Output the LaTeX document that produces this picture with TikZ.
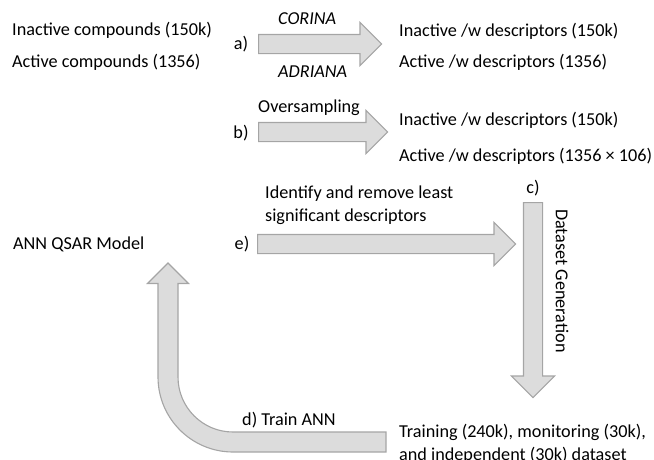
\documentclass[tikz,border=0pt]{standalone}
\usepackage{fontspec}
\setmainfont{Carlito}
\usetikzlibrary{shapes.arrows,positioning}
\definecolor{arrowfill}{HTML}{DCDCDC}
\definecolor{arrowline}{HTML}{A5A5A5}
\tikzstyle{every node}=[font=\fontsize{18.2}{23}\selectfont,inner sep=0pt]
\tikzstyle{txt} = [anchor=base west,align=left]
\tikzstyle{lbl} = [anchor=base]
\tikzstyle{bigarrow} = [single arrow,draw=arrowline,fill=arrowfill,line width=1.1pt,text height=18pt,text depth=0pt,minimum width=0pt,single arrow head extend=12pt,anchor=tail]
\tikzstyle{bigshape} = [draw=arrowline,fill=arrowfill,line width=1.1pt,line join=miter]

\begin{document}
\begin{tikzpicture}[x=1pt,y=-1pt]
\useasboundingbox (0,0) rectangle (654,459);

% a) structure generation
\node (inact) [txt] at (12,35.5) {Inactive compounds (150k)};
\node (act) [txt] at (12,67.5) {Active compounds (1356)};
\node (arrA) [bigarrow,minimum height=123pt] at (258,44) {};
\node (labA) [lbl] at (241,49) {a)};
\node (corina) [txt] at (278,24) {\itshape CORINA};
\node (adriana) [txt] at (278,77) {\itshape ADRIANA};
\node (inactdesc) [txt] at (399,36.5) {Inactive /w descriptors (150k)};
\node (actdesc) [txt] at (399,67.5) {Active /w descriptors (1356)};

% b) oversampling
\node (arrB) [bigarrow,minimum height=129pt] at (258,132) {};
\node (labB) [lbl] at (241,138.5) {b)};
\node (oversamp) [txt] at (258,112) {Oversampling};
\node (inactover) [txt] at (399,125.5) {Inactive /w descriptors (150k)};
\node (actover) [txt] at (399,161) {Active /w descriptors (1356 × 106)};

% c) dataset generation
\node (arrC) [bigarrow,minimum height=195pt,rotate=-90] at (533,202) {};
\node (labC) [lbl] at (533,193.5) {c)};
\node (datagen) [anchor=west,rotate=-90] at (562,209) {Dataset Generation};
\node (sets) [txt] at (399,460.5) {Training (240k), monitoring (30k),\\and independent (30k) dataset};

% d) training
\draw [bigshape] (386,432) -- (233,432) arc[start angle=90,end angle=180,radius=55]
  -- (178,283.5) -- (188.5,283.5) -- (168,263) -- (147.5,283.5) -- (158,283.5)
  -- (158,377) arc[start angle=180,end angle=90,radius=75] -- (386,452) -- cycle;
\node (train) [txt] at (242,425) {d) Train ANN};
\node (model) [txt] at (13,249.5) {ANN QSAR Model};

% e) descriptor pruning
\node (arrE) [bigarrow,minimum height=258pt] at (257,244) {};
\node (labE) [lbl] at (242,249.5) {e)};
\node (prune) [txt] at (265,221.5) {Identify and remove least\\significant descriptors};

\end{tikzpicture}
\end{document}
